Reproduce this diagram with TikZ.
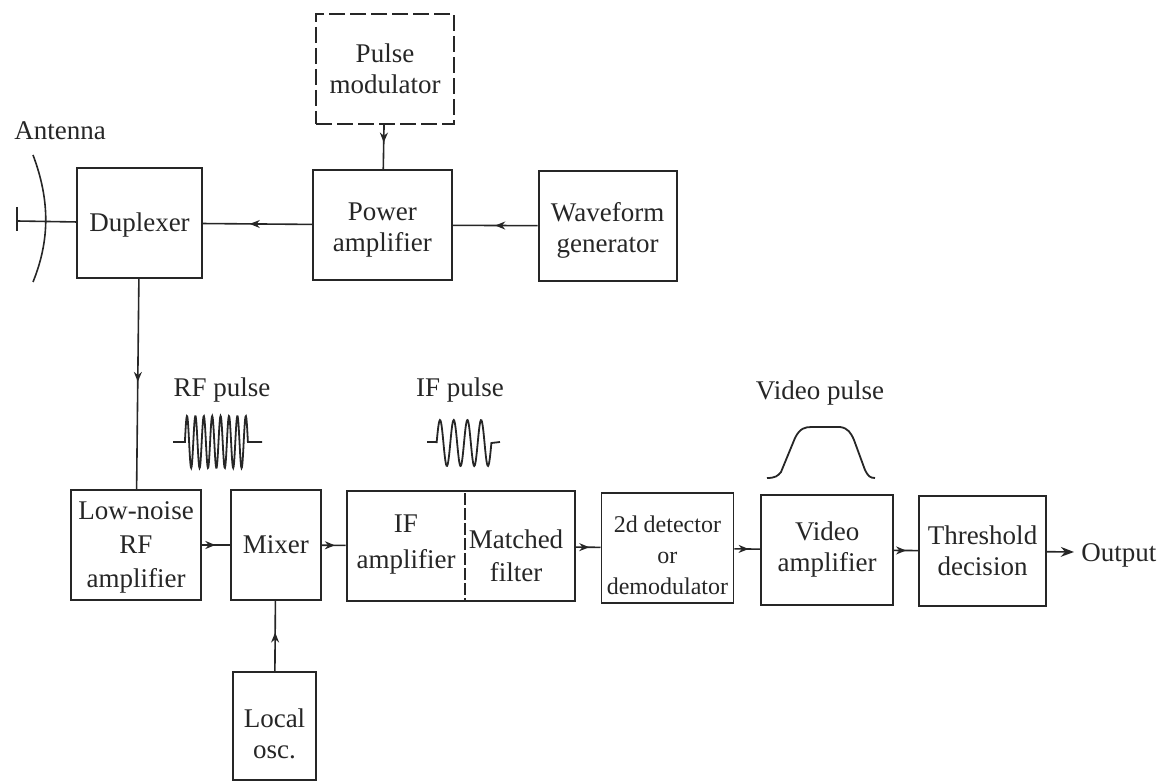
\documentclass[tikz,border=0pt]{standalone}
\usepackage{fontspec}
\setmainfont{Liberation Serif}
\usetikzlibrary{positioning,arrows.meta,decorations.markings}
\definecolor{inkline}{gray}{0.15}
\newcommand{\dropline}[1]{\rule{0pt}{\dimexpr 9.5pt+#1\relax}}
\begin{document}
\begin{tikzpicture}[x=0.5pt,y=-0.5pt,>=Stealth,
   every node/.style={font=\fontsize{13.5}{15.5}\selectfont,text=inkline,inner sep=0pt,align=center},
   block/.style={draw=inkline,line width=0.9pt,minimum height=55pt},
   link/.style={draw=inkline,line width=0.8pt},
   flow/.style={link,postaction={decorate},decoration={markings,
      mark=at position #1 with {\arrow{Stealth[length=5pt,width=4pt]}}}},
   pulseline/.style={draw=inkline,line width=0.9pt}]
  \useasboundingbox (0,0) rectangle (1164,781);
  % top row
  \node[block,minimum width=62.5pt] (dup) at (139.5,223) {\dropline{2pt}Duplexer};
  \node[block,minimum width=69.5pt] (pamp) [right=54.5pt of dup,yshift=-1pt] {\dropline{4pt}Power\\amplifier};
  \node[block,minimum width=69pt] (wgen) [right=42.5pt of pamp,yshift=-0.5pt] {\dropline{4pt}Waveform\\generator};
  \node[block,minimum width=69pt,dashed,dash pattern=on 8pt off 2.5pt] (pmod) at (385,69) {Pulse\\modulator};
  % bottom row
  \node[block,minimum width=65pt] (lna) at (136,545) {\dropline{2pt}Low-noise\\[1.5pt]RF\\[1.5pt]amplifier};
  \node[block,minimum width=45pt] (mixer) [right=14pt of lna] {Mixer};
  \node[block,minimum width=114pt] (ifbox) [right=12pt of mixer,yshift=-0.5pt] {};
  \node (ifamp) at (406,545) {IF\\[2.5pt]amplifier};
  \node (match) at (516,556) {Matched\\[1pt]filter};
  \coordinate (divtop) at (465,493);
  \coordinate (divbot) at (465,601);
  \node[block,minimum width=66pt,font=\fontsize{12}{14.5}\selectfont] (det) [right=12.5pt of ifbox,yshift=-1pt] {\dropline{6pt}2d detector\\[1pt]or\\[1pt]demodulator};
  \node[block,minimum width=66pt] (video) [right=13pt of det,yshift=-1pt] {Video\\amplifier};
  \node[block,minimum width=63.5pt] (thresh) [right=12pt of video,yshift=-0.5pt] {Threshold\\decision};
  \node[block,minimum width=41.5pt,minimum height=54pt] (local) at (274.5,726) {\dropline{8pt}Local\\osc.};
  % labels
  \node (ant) at (60,131) {Antenna};
  \node (rf) at (222,390) {RF pulse};
  \node (if) at (460,390) {IF pulse};
  \node (vid) at (820,393) {Video pulse};
  \node[anchor=west] (out) at (1081,555) {Output};
  \coordinate (feed) at (17,221);
  \coordinate (outend) at (1074,552);
  % links
  \draw[flow=0.4] (pmod) -- (pamp);
  \draw[flow=0.57] (pamp) -- (dup);
  \draw[flow=0.5] (wgen) -- (pamp);
  \draw[flow=0.49] (dup) -- (lna);
  \draw[flow=0.48] (lna) -- (mixer);
  \draw[flow=0.55] (mixer) -- (ifbox);
  \draw[flow=0.55] (ifbox) -- (det);
  \draw[flow=0.55] (det) -- (video);
  \draw[flow=0.5] (video) -- (thresh);
  \draw[flow=0.55] (local) -- (mixer);
  \draw[link,->] (thresh) -- (outend);
  \draw[link,dashed,dash pattern=on 6pt off 1.5pt] (divtop) -- (divbot);
  % antenna
  \draw[link] (feed) -- (dup);
  \draw[link] (17,207) -- (17,231);
  \draw[link] (33,155) .. controls (50,200) and (50,240) .. (33,282);
  % pulses
  \draw[pulseline] (173,442) -- (184.9,442) -- plot[domain=184.9:247.9,samples=160,smooth] (\x,{442-26*sin((\x-184.9)/8.4*360)}) -- (262,442);
  \draw[pulseline] (427,442) -- (436.6,442) -- plot[domain=436.6:491.4,samples=100,smooth] (\x,{443-23*sin((\x-436.6)/13.7*360)}) -- (500,442);
  \draw[pulseline] (767,478) .. controls (775,478) and (778,476) .. (781,472)
     -- (795,438) .. controls (800,428) and (805,427) .. (812,427)
     -- (840,427) .. controls (848,428) and (851,433) .. (854,440)
     -- (865,470) .. controls (868,476) and (870,478) .. (875,478);
\end{tikzpicture}
\end{document}
